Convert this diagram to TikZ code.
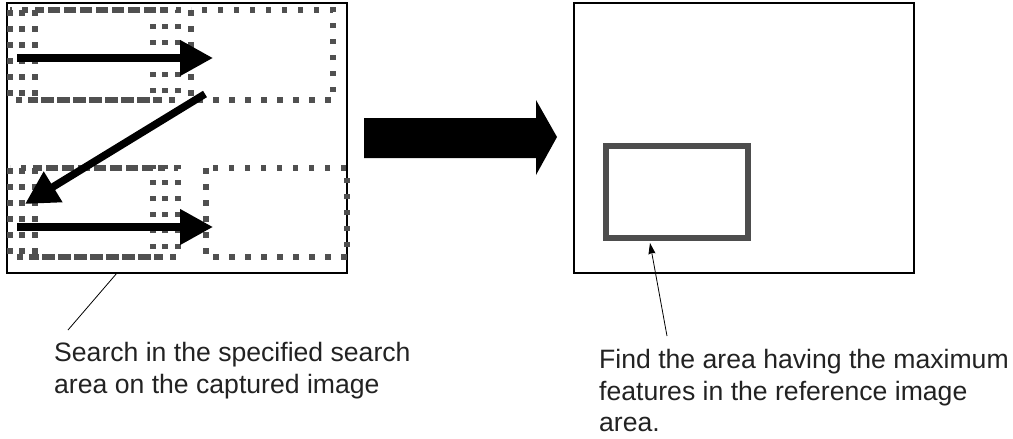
\documentclass[tikz,border=0pt]{standalone}
\usepackage{fontspec}
\setmainfont{Liberation Sans}
\usetikzlibrary{arrows.meta}
\definecolor{dotgray}{HTML}{505050}
\definecolor{framegray}{HTML}{4D4D4D}
\definecolor{txt}{HTML}{222222}
\begin{document}
\begin{tikzpicture}[x=1pt,y=-1pt,
  frame/.style={draw=black, line width=1.3pt},
  scanbox/.style={draw=dotgray, line width=5.5pt, dash pattern=on 5.5pt off 10.5pt},
  scanarrow/.style={line width=7.5pt, -{Triangle[length=33pt,width=34pt]}},
  pointer/.style={draw=black, line width=0.8pt},
  label/.style={font=\fontsize{26.6}{31.5}\selectfont, text=txt, align=left, inner sep=0pt, anchor=north west}]
\useasboundingbox (0,0) rectangle (1013,439);
% captured image
\draw[frame] (7,3) rectangle (347,273);
% sliding search windows, top row
\draw[scanbox] (10,10) rectangle (153,100);
\draw[scanbox] (22,10) rectangle (165,100);
\draw[scanbox] (35,10) rectangle (178,100);
\draw[scanbox] (191,10) rectangle (333,100);
% bottom row
\draw[scanbox] (10,168) rectangle (153,257);
\draw[scanbox] (22,168) rectangle (165,257);
\draw[scanbox] (35,168) rectangle (178,257);
\draw[scanbox] (206,168) rectangle (347,257);
% scan arrows
\coordinate (a1s) at (17,58);  \coordinate (a1e) at (213,58);
\coordinate (a2s) at (205,94); \coordinate (a2e) at (25,204);
\coordinate (a3s) at (17,227); \coordinate (a3e) at (213,227);
\draw[scanarrow] (a1s) -- (a1e);
\draw[scanarrow] (a2s) -- (a2e);
\draw[scanarrow] (a3s) -- (a3e);
% big arrow
\fill[black] (364,118) -- (536,118) -- (536,100) -- (557,137) -- (536,175) -- (536,158) -- (364,158) -- cycle;
% reference image
\draw[frame] (574,3) rectangle (914,273);
\draw[draw=framegray, line width=6.5pt] (606,146) rectangle (748,238);
\coordinate (found) at (650,243);
% labels
\node[label] (lt) at (54,342.5) {Search in the specified search\\area on the captured image};
\node[label] (rt) at (599,349.5) {Find the area having the maximum\\features in the reference image\\area.};
% pointers
\coordinate (lp1) at (117,273); \coordinate (lp2) at (68,330);
\draw[pointer] (lp1) -- (lp2);
\coordinate (rp1) at (667,336);
\draw[pointer, -{Stealth[length=11pt,width=7pt,inset=1pt]}] (rp1) -- (found);
\end{tikzpicture}
\end{document}
